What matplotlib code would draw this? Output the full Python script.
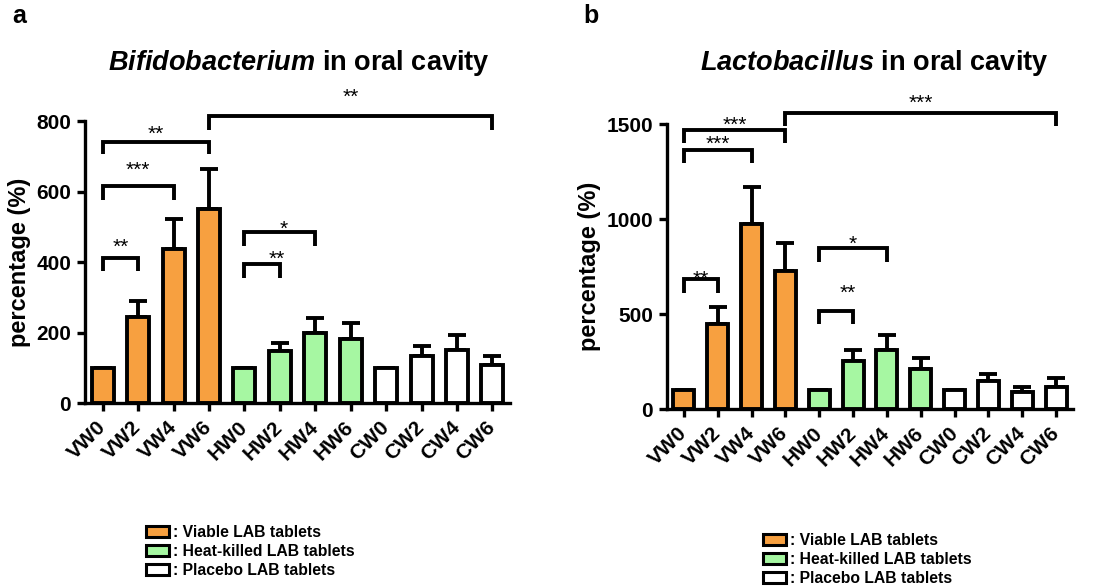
import numpy as np
import matplotlib
matplotlib.use("Agg")
import matplotlib.pyplot as plt
import matplotlib.transforms as mtransforms
from matplotlib.patches import Patch

plt.rcParams['font.family'] = 'Liberation Sans'
plt.rcParams['mathtext.fontset'] = 'custom'
plt.rcParams['mathtext.bfit'] = 'Liberation Sans:bold:italic'
plt.rcParams['mathtext.rm'] = 'Liberation Sans'

labels = ['VW0', 'VW2', 'VW4', 'VW6', 'HW0', 'HW2', 'HW4', 'HW6', 'CW0', 'CW2', 'CW4', 'CW6']
groups = ['viable'] * 4 + ['heat'] * 4 + ['placebo'] * 4

bifido_mean = [100, 243, 437, 550, 100, 148, 199, 181, 100, 133, 150, 108]
bifido_err = [0, 47, 85, 115, 0, 22, 42, 46, 0, 29, 43, 25]

lacto_mean = [100, 445, 975, 725, 100, 255, 312, 208, 100, 145, 92, 118]
lacto_err = [0, 92, 195, 148, 0, 55, 80, 60, 0, 40, 22, 45]

# (left bar, right bar, bracket height, leg drop, stars, star x, star y)
bifido_sig = [(0, 1, 410, 35, '**', 0.5, 460),
              (0, 2, 616, 40, '***', 1.0, 680),
              (0, 3, 740, 34, '**', 1.5, 781),
              (3, 11, 814, 40, '**', 7.0, 887),
              (4, 5, 394, 39, '**', 4.9, 425),
              (4, 6, 485, 40, '*', 5.1, 510)]
lacto_sig = [(0, 1, 684, 74, '**', 0.5, 716),
             (0, 2, 1363, 68, '***', 1.0, 1426),
             (0, 3, 1468, 68, '***', 1.5, 1526),
             (3, 11, 1558, 69, '***', 7.0, 1642),
             (4, 5, 516, 69, '**', 4.85, 642),
             (4, 6, 847, 73, '*', 5.0, 900)]

colors = {'viable': '#F7A040', 'heat': '#A6F7A2', 'placebo': 'white'}
legend_text = {'viable': ': Viable LAB tablets',
               'heat': ': Heat-killed LAB tablets',
               'placebo': ': Placebo LAB tablets'}


def draw_panel(ax, mean, err, sig, ymax, ystep):
    x = np.arange(len(labels))
    ax.bar(x, mean, width=0.62, color=[colors[g] for g in groups],
           edgecolor='black', linewidth=2.8, zorder=3, clip_on=False)
    ax.errorbar(x, mean, yerr=[np.zeros(len(err)), err], fmt='none',
                ecolor='black', elinewidth=2.8, capsize=6.5, capthick=2.8, zorder=2)
    for i, j, y, drop, stars, tx, ty in sig:
        ax.plot([i, i, j, j], [y - drop, y, y, y - drop], color='black',
                lw=2.8, clip_on=False, solid_capstyle='butt', solid_joinstyle='miter')
        ax.annotate(stars, xy=(tx, ty), xytext=(0, -8.7), textcoords='offset points',
                    ha='center', va='baseline', fontsize=15, annotation_clip=False)
    ax.set_xlim(-0.5, 11.5)
    ax.set_ylim(0, ymax)
    ax.set_yticks(np.arange(0, ymax + 1, ystep))
    ax.set_xticks(x)
    ax.set_xticklabels(labels, rotation=45, ha='right', va='center',
                       rotation_mode='anchor', fontsize=15, fontweight='bold')
    shift = mtransforms.ScaledTranslation(3 / 100, 0, ax.figure.dpi_scale_trans)
    for t in ax.get_xticklabels():
        t.set_transform(t.get_transform() + shift)
    for t in ax.get_yticklabels():
        t.set_fontsize(15)
        t.set_fontweight('bold')
    ax.set_ylabel('percentage (%)', fontsize=17, fontweight='bold', labelpad=4)
    for s in ['top', 'right']:
        ax.spines[s].set_visible(False)
    for s in ['left', 'bottom']:
        ax.spines[s].set_linewidth(2.4)
    ax.tick_params(axis='both', direction='out', length=6, width=2.4)
    ax.tick_params(axis='y', pad=4)
    ax.tick_params(axis='x', pad=9)


fig = plt.figure(figsize=(11.06, 5.88), dpi=100)
ax1 = fig.add_axes([0.0769, 0.3146, 0.3843, 0.4796])
ax2 = fig.add_axes([0.6031, 0.3044, 0.3671, 0.4847])

draw_panel(ax1, bifido_mean, bifido_err, bifido_sig, 800, 200)
draw_panel(ax2, lacto_mean, lacto_err, lacto_sig, 1500, 500)

fig.text(299 / 1106, 1 - 63 / 588, r'$\mathbfit{Bifidobacterium}$ in oral cavity',
         ha='center', va='center', fontsize=19.5, fontweight='bold')
fig.text(874 / 1106, 1 - 63 / 588, r'$\mathbfit{Lactobacillus}$ in oral cavity',
         ha='center', va='center', fontsize=19.5, fontweight='bold')
fig.text(12 / 1106, 1 - 16 / 588, 'a', ha='left', va='center', fontsize=18, fontweight='bold')
fig.text(583 / 1106, 1 - 16 / 588, 'b', ha='left', va='center', fontsize=18, fontweight='bold')

handles = [Patch(facecolor=colors[g], edgecolor='black', linewidth=2.2) for g in ['viable', 'heat', 'placebo']]
texts = [legend_text[g] for g in ['viable', 'heat', 'placebo']]
for anchor in [(146 / 1106, 1 - 525 / 588), (763 / 1106, 1 - 533 / 588)]:
    fig.legend(handles, texts, loc='upper left', bbox_to_anchor=anchor, frameon=False,
               prop={'weight': 'bold', 'size': 11.3}, handlelength=1.45, handleheight=0.75,
               labelspacing=0.25, handletextpad=0.3, borderpad=0, borderaxespad=0)

fig.savefig('out.png', dpi=100)
